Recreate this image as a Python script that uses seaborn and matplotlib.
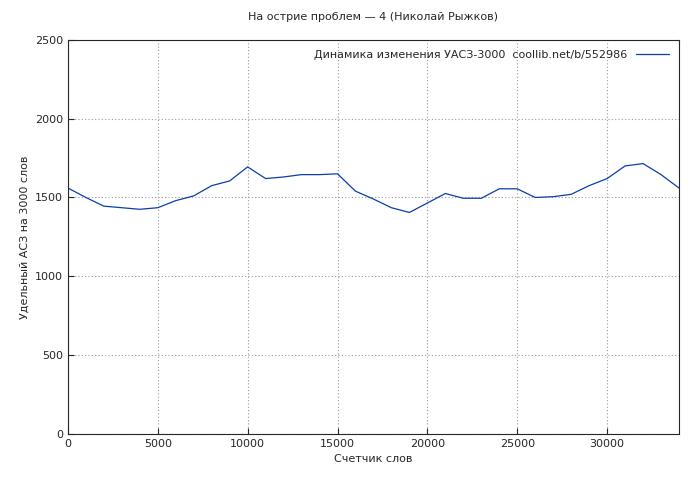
import matplotlib
matplotlib.use('Agg')
from matplotlib import pyplot as plt
import seaborn as sns
import pandas as pd

words = list(range(0, 35000, 1000))
asz = [1560, 1500, 1445, 1435, 1425, 1435, 1480, 1510, 1575, 1605,
       1694, 1620, 1630, 1645, 1645, 1650, 1540, 1490, 1435, 1405,
       1465, 1525, 1495, 1495, 1555, 1555, 1500, 1505, 1520, 1575,
       1620, 1700, 1715, 1645, 1560]
df = pd.DataFrame({"words": words, "asz": asz})

sns.set_style("ticks")
plt.rcParams['font.family'] = ['DejaVu Sans']

fig, ax = plt.subplots(figsize=(7, 4.8), dpi=100)
fig.subplots_adjust(left=0.097, right=0.97, top=0.917, bottom=0.096)
sns.lineplot(data=df, x="words", y="asz", ax=ax, color="#0b3ea8", linewidth=0.9,
             label="Динамика изменения УАСЗ-3000  coollib.net/b/552986")
ax.set_xlim(0, 34000)
ax.set_ylim(0, 2500)
ax.set_xticks(range(0, 34000, 5000))
ax.set_yticks(range(0, 2501, 500))
ax.grid(True, color="#999999", linestyle=(0, (1, 2)), linewidth=0.8)
ax.tick_params(labelsize=8, direction="in", length=4)
for s in ax.spines.values():
    s.set_linewidth(0.8)
ax.set_xlabel("Счетчик слов", fontsize=8)
ax.set_ylabel("Удельный АСЗ на 3000 слов", fontsize=8)
ax.set_title("На острие проблем — 4 (Николай Рыжков)", fontsize=8, pad=14)
leg = ax.legend(loc="upper right", fontsize=8, frameon=False, markerfirst=False,
                handlelength=3)
fig.savefig("out.png", dpi=100)
